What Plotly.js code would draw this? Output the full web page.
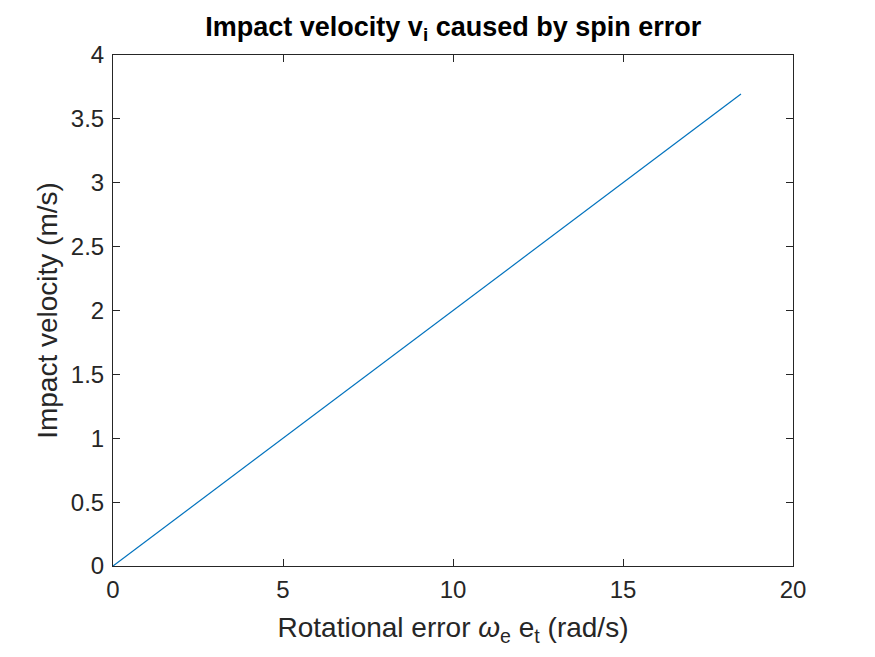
<!DOCTYPE html>
<html>
<head>
<meta charset="utf-8">
<script src="https://cdn.plot.ly/plotly-3.0.1.min.js"></script>
<style>
  html, body { margin: 0; padding: 0; background: #ffffff; }
  #chart { width: 875px; height: 657px; }
</style>
</head>
<body>
<div id="chart"></div>
<script>
// Rotational error (rad/s) and the resulting impact velocity (m/s)
const rotationalError = [0, 18.47];
const impactVelocity = [0, 3.694];

const xTicks = [0, 5, 10, 15, 20];
const yTicks = [0, 0.5, 1, 1.5, 2, 2.5, 3, 3.5, 4];

const axisColor = '#262626';
const fontFamily = '"Liberation Sans", Arial, Helvetica, sans-serif';

const trace = {
  x: rotationalError,
  y: impactVelocity,
  type: 'scatter',
  mode: 'lines',
  line: { color: '#0072BD', width: 1.2 },
  hoverinfo: 'x+y'
};

const axisCommon = {
  showline: true,
  linecolor: axisColor,
  linewidth: 1,
  mirror: 'ticks',
  ticks: 'inside',
  ticklen: 7,
  tickwidth: 1,
  tickcolor: axisColor,
  showgrid: false,
  zeroline: false,
  tickfont: { family: fontFamily, size: 24, color: axisColor }
};

const layout = {
  width: 875,
  height: 657,
  margin: { l: 113, r: 82, t: 55, b: 91 },
  paper_bgcolor: '#ffffff',
  plot_bgcolor: '#ffffff',
  showlegend: false,
  title: {
    text: '<b>Impact velocity v<sub>i</sub> caused by spin error</b>',
    font: { family: fontFamily, size: 27, color: '#000000' },
    x: 0.518,
    xanchor: 'center',
    y: 0.96,
    yanchor: 'middle'
  },
  xaxis: Object.assign({}, axisCommon, {
    range: [0, 20],
    tickvals: xTicks,
    ticktext: xTicks.map(String),
    ticklabelstandoff: 2,
    title: {
      text: 'Rotational error <i>ω</i><sub>e</sub> e<sub>t</sub> (rad/s)',
      font: { family: fontFamily, size: 28, color: axisColor },
      standoff: 15
    }
  }),
  yaxis: Object.assign({}, axisCommon, {
    range: [0, 4],
    tickvals: yTicks,
    ticktext: yTicks.map(String),
    ticklabelstandoff: 3,
    title: {
      text: 'Impact velocity (m/s)',
      font: { family: fontFamily, size: 28, color: axisColor },
      standoff: 5
    }
  })
};

Plotly.newPlot('chart', [trace], layout, { displayModeBar: false, staticPlot: true });
</script>
</body>
</html>
